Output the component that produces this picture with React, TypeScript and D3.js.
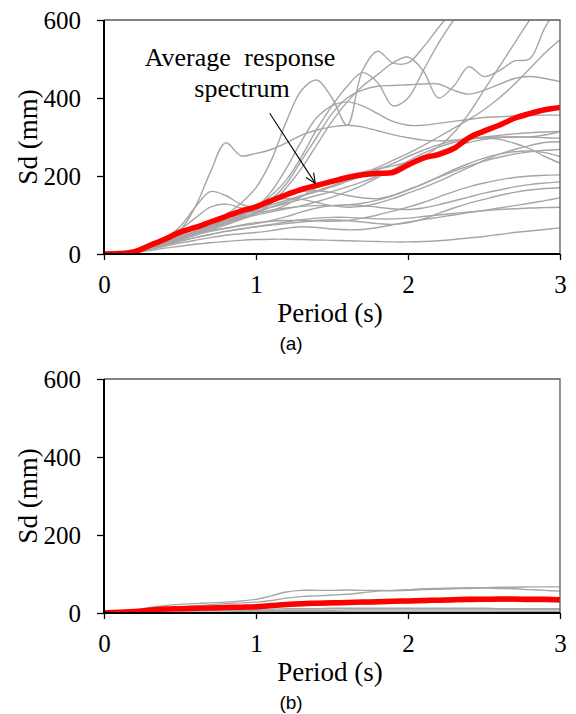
import React, { useEffect, useRef } from 'react';
import * as d3 from 'd3';

// period grid (s), 0.1 s step
const periods = d3.range(0, 31).map((i) => i / 10);

// panel (a) - individual records, Sd in mm
const recordsA = [
  [0,1,4,9,15,20,25,29,32,35,37,38,38,37,36,35,34,33,32,31,31,32,34,37,41,45,50,55,59,63,67],
  [0,1,5,12,20,28,35,42,48,52,55,60,66,70,68,64,62,63,68,75,82,88,94,100,106,112,118,124,130,137,144],
  [0,2,7,15,25,34,42,50,58,64,70,74,78,82,86,88,86,82,78,76,80,90,104,118,130,140,150,158,164,168,170],
  [0,1,6,14,24,36,48,58,66,74,80,84,86,86,85,84,86,92,100,110,120,132,146,160,172,182,190,196,200,202,203],
  [0,2,8,18,30,42,52,60,66,72,78,86,96,108,118,124,126,124,120,116,114,118,126,136,146,156,164,172,178,182,185],
  [0,2,8,20,35,50,64,74,84,94,104,112,118,122,124,124,126,130,138,150,165,180,196,212,226,238,248,256,262,266,268],
  [0,2,10,24,40,56,70,82,96,110,124,136,142,140,132,124,120,122,130,142,156,170,186,204,222,240,256,268,278,286,288],
  [0,2,10,22,38,62,92,120,128,118,108,112,126,148,170,188,200,210,218,226,236,248,262,276,286,294,298,300,300,298,297],
  [0,2,9,22,40,70,120,160,150,128,120,132,150,160,162,158,150,144,142,150,164,180,198,216,232,246,256,262,264,260,250],
  [0,2,8,20,34,60,120,210,285,252,258,268,285,305,318,326,330,326,316,306,298,292,290,292,296,300,304,308,311,313,314],
  [0,2,8,18,30,44,58,70,84,100,120,160,220,290,350,380,390,380,360,340,330,330,335,340,345,350,352,354,355,356,356],
  [0,2,8,18,32,48,64,80,100,130,170,240,340,420,446,400,330,470,520,490,490,530,580,630,680,720,760,780,800,820,840],
  [0,2,8,16,26,38,52,66,80,96,120,150,190,250,320,380,430,465,440,380,400,470,540,600,660,700,740,770,800,820,840],
  [0,2,8,16,26,38,50,62,74,88,104,130,170,220,280,340,390,430,460,490,505,470,400,430,480,455,470,495,500,580,640],
  [0,2,8,18,30,44,58,72,86,100,116,140,180,240,300,360,400,420,430,432,434,436,436,420,410,420,435,450,455,450,442],
  [0,2,7,16,28,42,56,70,84,98,110,120,130,140,150,160,172,185,200,215,230,250,275,310,360,420,480,540,600,660,700],
  [0,2,8,18,30,44,58,72,86,100,114,126,138,150,162,175,190,206,222,240,258,278,300,322,345,370,400,435,475,515,549],
  [0,1,5,12,22,32,42,50,58,64,70,76,82,88,92,94,94,92,90,90,92,96,100,104,108,111,114,116,118,119,120],
  [0,1,6,14,26,40,54,66,78,90,100,108,116,124,134,146,160,176,196,216,238,258,274,286,294,298,300,300,300,305,314],
  [0,2,8,18,30,42,54,66,78,92,106,120,134,148,160,172,186,200,216,232,250,266,280,290,296,298,294,284,270,250,233],
];
const averageA = [0,1,6,22,38,56,68,82,96,110,121,137,152,166,176,186,196,203,207,209,228,246,255,270,298,315,330,348,360,370,376];

// panel (b)
const recordsB = [
  [0,2,6,14,19,22,24,26,28,31,35,44,54,58,58,58,59,58,58,57,58,60,61,62,63,64,63,62,60,58,56],
  [0,1,4,8,12,15,18,21,24,26,28,32,38,42,44,46,48,52,56,58,60,62,63,64,65,65,66,66,67,67,67],
  [0,1,2,4,5,6,7,8,9,10,11,14,17,19,20,21,22,23,24,25,26,27,28,29,29,30,30,30,29,29,29],
  [0,1,3,5,6,7,8,8,9,9,10,10,11,11,11,12,12,12,12,12,12,12,12,12,12,12,11,11,11,11,11],
  [0,1,2,3,4,5,5,6,6,6,7,7,7,7,7,7,8,8,8,8,8,8,8,8,8,8,8,8,8,8,8],
  [0,0,1,2,2,3,3,3,3,4,4,4,4,4,4,4,4,4,4,4,4,4,4,4,4,4,4,4,4,4,4],
];
const averageB = [0,2,4,7,10,11,12,13,14,15,16,19,22,24,25,26,27,28,29,30,31,32,33,34,35,35,36,36,35,35,34];

const xTicks = [0, 1, 2, 3];
const yTicks = [0, 200, 400, 600];

// annotation arrow in data units: [period, Sd]
const arrowFrom = [1.09, 361];
const arrowTo = [1.39, 181];

const serif = "'Times New Roman', 'Liberation Serif', Times, serif";
const sans = "Arial, 'Liberation Sans', sans-serif";

function Panel({ svg, top, records, average, label, id, note }) {
  const left = 104, right = 560, h = 234;
  const x = d3.scaleLinear().domain([0, 3]).range([left, right]);
  const y = d3.scaleLinear().domain([0, 600]).range([top + h, top]);

  const g = svg.append('g');
  g.append('clipPath').attr('id', id)
    .append('rect').attr('x', left).attr('y', top).attr('width', right - left).attr('height', h);

  const line = d3.line()
    .x((d, i) => x(periods[i]))
    .y((d) => y(d))
    .curve(d3.curveCatmullRom.alpha(0.5));

  const plot = g.append('g').attr('clip-path', `url(#${id})`);
  plot.selectAll('path.rec').data(records).join('path')
    .attr('class', 'rec')
    .attr('d', line)
    .attr('fill', 'none')
    .attr('stroke', '#a6a6a6')
    .attr('stroke-width', 1.4);
  plot.append('path')
    .datum(average)
    .attr('d', line)
    .attr('fill', 'none')
    .attr('stroke', '#ff0000')
    .attr('stroke-width', 5.5)
    .attr('stroke-linejoin', 'round');

  // frame top / right
  g.append('path')
    .attr('d', `M${left},${top}H${right}V${top + h}`)
    .attr('fill', 'none')
    .attr('stroke', '#595959')
    .attr('stroke-width', 1.3);

  const xAxis = g.append('g')
    .attr('transform', `translate(0, ${top + h})`)
    .call(d3.axisBottom(x).tickValues(xTicks).tickSize(6).tickFormat(d3.format('d')));
  xAxis.selectAll('text').attr('y', 39).attr('dy', null);

  const yAxis = g.append('g')
    .attr('transform', `translate(${left}, 0)`)
    .call(d3.axisLeft(y).tickValues(yTicks).tickSize(7).tickPadding(16));

  [xAxis, yAxis].forEach((a) => {
    a.attr('font-family', null).attr('font-size', null);
    a.select('.domain').attr('stroke', '#000').attr('stroke-width', 2);
    a.selectAll('.tick line').attr('stroke', '#000').attr('stroke-width', 1.3);
    a.selectAll('text')
      .style('font-family', serif)
      .style('font-size', '25px')
      .attr('fill', '#000');
  });
  yAxis.select('.domain').attr('d', `M0,${top + h}V${top}`);
  xAxis.select('.domain').attr('d', `M${left},0H${right}`);

  g.append('text')
    .attr('x', 330).attr('y', top + h + 68)
    .attr('text-anchor', 'middle')
    .style('font-family', serif).style('font-size', '27px')
    .text('Period (s)');

  g.append('text')
    .attr('transform', `translate(37, ${top + h / 2}) rotate(-90)`)
    .attr('text-anchor', 'middle')
    .style('font-family', serif).style('font-size', '27px')
    .text('Sd (mm)');

  g.append('text')
    .attr('x', 291).attr('y', top + h + 96)
    .attr('text-anchor', 'middle')
    .style('font-family', sans).style('font-size', '19px')
    .text(label);

  if (note) {
    const t = g.append('text')
      .attr('text-anchor', 'middle')
      .style('font-family', serif).style('font-size', '26px');
    t.append('tspan').attr('x', 240).attr('y', top + 46).style('word-spacing', '7px').text('Average response');
    t.append('tspan').attr('x', 242).attr('y', top + 77).text('spectrum');

    g.append('line')
      .attr('x1', x(arrowFrom[0])).attr('y1', y(arrowFrom[1]))
      .attr('x2', x(arrowTo[0])).attr('y2', y(arrowTo[1]))
      .attr('stroke', '#000').attr('stroke-width', 1.1)
      .attr('marker-end', 'url(#arrowOpen)');
  }
}

export default function App() {
  const svgRef = useRef(null);

  useEffect(() => {
    const svg = d3.select(svgRef.current);
    svg.selectAll('*').remove();

    svg.append('defs').append('marker')
      .attr('id', 'arrowOpen')
      .attr('viewBox', '0 0 12 12')
      .attr('refX', 11).attr('refY', 6)
      .attr('markerWidth', 12).attr('markerHeight', 12)
      .attr('markerUnits', 'userSpaceOnUse')
      .attr('orient', 'auto')
      .append('path')
      .attr('d', 'M1,1.5L11,6L1,10.5')
      .attr('fill', 'none')
      .attr('stroke', '#000')
      .attr('stroke-width', 1.1);

    Panel({ svg, top: 20, records: recordsA, average: averageA, label: '(a)', id: 'clipA', note: true });
    Panel({ svg, top: 379, records: recordsB, average: averageB, label: '(b)', id: 'clipB', note: false });
  }, []);

  return (
    <svg
      ref={svgRef}
      width={576}
      height={714}
      style={{ position: 'absolute', left: 0, top: 0, background: '#fff' }}
    />
  );
}
